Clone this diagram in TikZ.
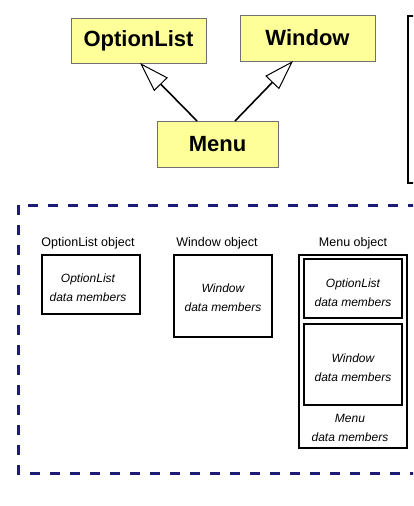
\documentclass[tikz,border=0pt]{standalone}
\usepackage{fontspec}
\setmainfont{Liberation Sans}
\usetikzlibrary{arrows.meta}
\definecolor{classfill}{HTML}{FFFF99}
\definecolor{classline}{HTML}{707070}
\definecolor{navyline}{HTML}{1C1C78}
\tikzset{
  classbox/.style={draw=classline, line width=1pt, fill=classfill, inner sep=0pt,
    font=\fontsize{22}{26}\selectfont\bfseries},
  inherit/.style={line width=1.6pt, -{Triangle[open, length=30pt, width=19pt, line width=1pt]}},
  objbox/.style={draw=black, line width=1.8pt, inner sep=0pt},
  innerbox/.style={draw=black, line width=1.4pt, inner sep=0pt},
  objlabel/.style={font=\fontsize{12.5}{15}\selectfont, inner sep=0pt},
  membertext/.style={font=\fontsize{12}{19}\selectfont\itshape, align=center, inner sep=0pt},
}
\begin{document}
\begin{tikzpicture}[x=1pt,y=-1pt]
\useasboundingbox (0,0) rectangle (413,506);
\clip (0,0) rectangle (413,506);
% class diagram
\node[classbox, minimum width=135pt, minimum height=45pt] (ol) at (138.5,40.5) {OptionList};
\node[classbox, minimum width=135pt, minimum height=46pt] (win) at (307.5,38) {Window};
\node[classbox, minimum width=121pt, minimum height=46pt] (menu) at (217.5,144) {Menu};
\coordinate (olb) at (140,63);
\coordinate (winb) at (293,61);
\coordinate (m1) at (197,121);
\coordinate (m2) at (235,121);
\draw[inherit] (m1) -- (olb);
\draw[inherit] (m2) -- (winb);
% partial box at right
\coordinate (rb1) at (408,16);
\coordinate (rb2) at (425,183);
\draw[line width=1.5pt] (rb1) rectangle (rb2);
% dashed frame
\coordinate (df1) at (18,205);
\coordinate (df2) at (440,473);
\draw[navyline, line width=3pt, dash pattern=on 10pt off 10pt] (df1) rectangle (df2);
% objects
\node[objlabel] (oll) at (88,243) {OptionList object};
\node[objlabel] (wl) at (217,243) {Window object};
\node[objlabel] (ml) at (353,243) {Menu object};
\node[objbox, minimum width=98pt, minimum height=59pt] (olo) at (91,284.5) {};
\node[membertext] (olt) at (88,288) {OptionList\\data members};
\node[objbox, minimum width=98pt, minimum height=82pt] (wo) at (223,296) {};
\node[membertext] (wt) at (223,297.5) {Window\\data members};
\node[objbox, minimum width=108pt, minimum height=193pt] (mo) at (353,351.5) {};
\node[innerbox, minimum width=98pt, minimum height=59pt] (mi1) at (353,288.5) {};
\node[membertext] (mt1) at (353,293) {OptionList\\data members};
\node[innerbox, minimum width=98pt, minimum height=81pt] (mi2) at (353,364.5) {};
\node[membertext] (mt2) at (353,367.5) {Window\\data members};
\node[membertext] (mt3) at (350,428) {Menu\\data members};
\end{tikzpicture}
\end{document}
